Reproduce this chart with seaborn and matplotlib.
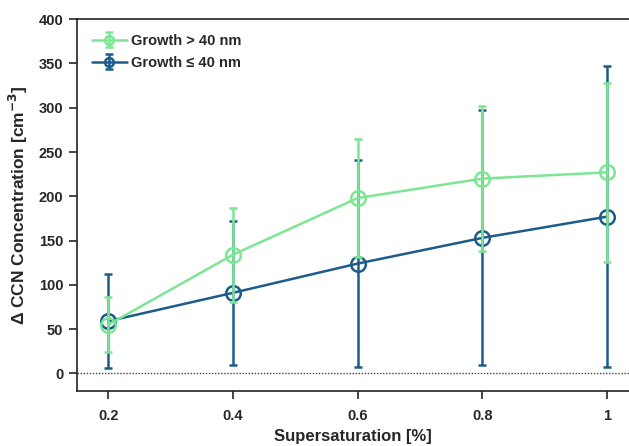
import matplotlib
matplotlib.use("Agg")
import matplotlib.pyplot as plt
import seaborn as sns
import pandas as pd

supersat = [0.2, 0.4, 0.6, 0.8, 1.0]
xtick_labels = ["0.2", "0.4", "0.6", "0.8", "1"]
growth_gt40 = [55, 134, 198, 220, 227]
growth_gt40_err = [31, 53, 67, 82, 101]
growth_le40 = [59, 91, 124, 153, 177]
growth_le40_err = [53, 81, 117, 144, 170]

green = "#7DE694"
blue = "#1D5C8A"

sns.set_style("ticks")
plt.rcParams["font.family"] = ["Liberation Sans", "DejaVu Sans"]
plt.rcParams["font.weight"] = "bold"

fig = plt.figure(figsize=(6.29, 4.46), dpi=100)
ax = fig.add_axes([0.1225, 0.123, 0.877, 0.834])

ax.axhline(0, color="#444444", linestyle=(0, (1, 1.2)), linewidth=1.0, zorder=1)

series = [
    (growth_le40, growth_le40_err, blue, "Growth \u2264 40 nm", 2),
    (growth_gt40, growth_gt40_err, green, "Growth > 40 nm", 3),
]
handles = {}
for vals, errs, col, lab, z in series:
    h = ax.errorbar(supersat, vals, yerr=errs, color=col, linewidth=1.8,
                    elinewidth=1.8, capsize=3, capthick=1.8, marker="o",
                    markersize=10.5, markerfacecolor="none", markeredgewidth=1.8,
                    label=lab, zorder=z)
    handles[lab] = h

ax.legend([handles["Growth > 40 nm"], handles["Growth \u2264 40 nm"]],
          ["Growth > 40 nm", "Growth \u2264 40 nm"],
          loc="upper left", frameon=False, fontsize=10.5,
          handlelength=2.4, handletextpad=0.3, borderaxespad=0.5,
          labelspacing=0.55, markerscale=0.6, borderpad=0.5)

ax.set_xlim(0.15, 1.035)
ax.set_ylim(-20, 400)
ax.set_xticks(supersat)
ax.set_xticklabels(xtick_labels)
ax.set_yticks(range(0, 401, 50))
ax.tick_params(axis="both", direction="out", length=6, width=1.2,
               labelsize=10.5, pad=4)
ax.tick_params(axis="x", pad=7)
for s in ["left", "bottom", "top"]:
    ax.spines[s].set_linewidth(1.2)
    ax.spines[s].set_color("#222222")
ax.spines["right"].set_visible(False)

ax.set_xlabel("Supersaturation [%]", fontsize=12, fontweight="bold", labelpad=4)
ax.set_ylabel("\u0394 CCN Concentration [cm$^{\\mathbf{-3}}$]", fontsize=12.5,
              fontweight="bold", labelpad=6)

fig.savefig("out.png", dpi=100)
